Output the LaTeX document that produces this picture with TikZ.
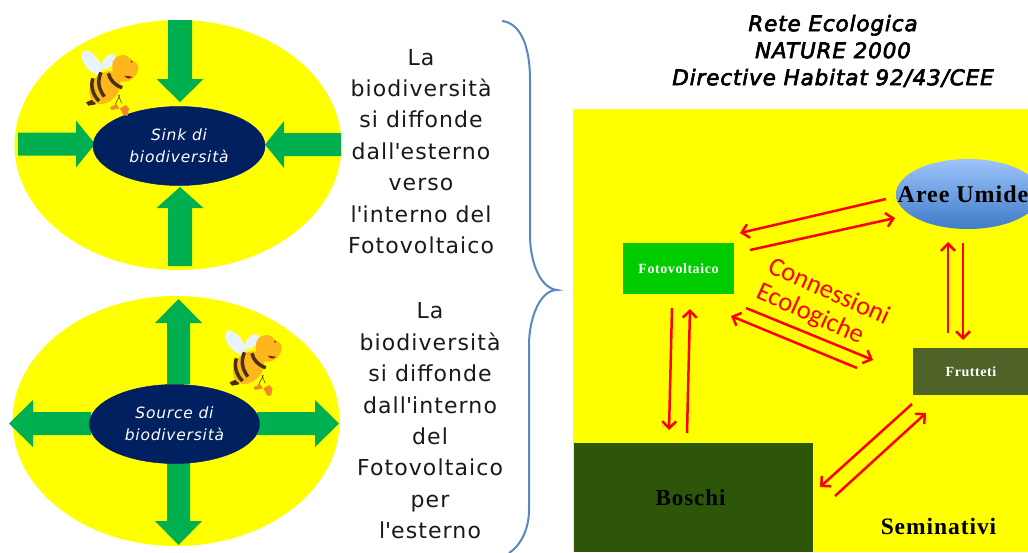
\documentclass[tikz,border=0pt]{standalone}
\usepackage{fontspec}
\usetikzlibrary{arrows.meta,shapes.geometric}
\setmainfont[LetterSpace=5]{DejaVu Sans}
\newfontfamily\serifbold[LetterSpace=4]{Liberation Serif Bold}
\newfontfamily\carli{Carlito}
\newfontfamily\titlefont[LetterSpace=4,FakeBold=3]{DejaVu Sans Oblique}
\definecolor{pureyellow}{RGB}{255,255,0}
\definecolor{purered}{RGB}{255,0,0}
\definecolor{blockgreen}{HTML}{00B050}
\definecolor{navyfill}{HTML}{002060}
\definecolor{bracecol}{HTML}{5B87BF}
\definecolor{boschicol}{HTML}{2D5609}
\definecolor{fotocol}{HTML}{00CC00}
\definecolor{fruttcol}{HTML}{4F6228}
\definecolor{beeorange}{HTML}{FDB71C}
\definecolor{beebrown}{HTML}{4A3208}
\definecolor{beewing}{HTML}{EAF3FC}
\definecolor{beefoot}{HTML}{F08A2C}
\definecolor{areetop}{HTML}{9DC3FB}
\definecolor{areebot}{HTML}{3F7CC8}
\tikzset{
  bigoval/.style={ellipse,fill=pureyellow,inner sep=0pt},
  navyoval/.style={ellipse,fill=navyfill,draw=navyfill!80!blue,line width=0.5pt,inner sep=0pt,minimum width=172pt,minimum height=79pt,text=white,align=center,font=\fontsize{15.5}{23}\selectfont\itshape},
  zone/.style={rectangle,inner sep=0pt},
  link/.style={purered,line width=2.5pt,-{Straight Barb[length=7pt,width=14pt,line width=2.5pt]}},
  bodytext/.style={align=center,text=black!90,font=\fontsize{22}{31.4}\selectfont},
  pics/beefig/.style={code={
    \begin{scope}[scale=1/3]
    \fill[beewing,rotate around={-52:(50,52)}] (50,52) circle[x radius=42,y radius=21];
    \fill[beewing,rotate around={50:(100,50)}] (100,50) circle[x radius=28,y radius=15];
    \fill[beebrown] (33,172) -- (60,160) -- (62,178) -- (40,182) -- cycle;
    \fill[beeorange,rotate around={50:(90,128)}] (90,128) circle[x radius=54,y radius=41];
    \draw[beebrown,line width=3.5pt] (78,82) .. controls (68,105) and (68,128) .. (88,155);
    \draw[beebrown,line width=3.5pt] (54,100) .. controls (46,120) and (52,148) .. (72,168);
    \draw[beebrown,line width=3.5pt] (100,85) .. controls (105,105) and (120,122) .. (142,128);
    \fill[beeorange] (112,60) .. controls (112,32) and (150,22) .. (162,38)
       .. controls (172,50) and (192,50) .. (190,70) .. controls (187,92) and (172,107) .. (150,110)
       .. controls (122,114) and (110,85) .. (112,60) -- cycle;
    \fill[beebrown] (170,50) circle[radius=3];
    \fill[beebrown!70!red] (148,92) .. controls (155,104) and (167,102) .. (172,95) -- cycle;
    \draw[beebrown,line width=0.5pt] (130,150) -- (140,175) (135,150) -- (120,180);
    \fill[beefoot] (105,186) -- (125,178) -- (133,190) -- (110,195) -- cycle;
    \fill[beefoot] (135,190) -- (152,180) -- (162,190) -- (158,212) -- (146,212) -- cycle;
    \end{scope}
  }}
}
\newcommand{\blockarrow}[5]{% tail x,y / angle / length / head length / half shaft
  \fill[blockgreen,shift={(#1)},rotate=#2]
    (0,-#5) -- (#3-#4,-#5) -- (#3-#4,-23.5) -- (#3,0) -- (#3-#4,23.5) -- (#3-#4,#5) -- (0,#5) -- cycle;}
\begin{document}
\begin{tikzpicture}[x=1pt,y=-1pt]
\useasboundingbox (0,0) rectangle (1028,552);
\clip (0,0) rectangle (1028,552);

% Upper oval
\node[bigoval,minimum width=327pt,minimum height=250pt] (sinkbg) at (178,145) {};
\blockarrow{180,20}{-90}{82}{23}{12}
\blockarrow{180,266}{90}{79}{21}{12}
\blockarrow{18,144}{0}{77}{19}{11.5}
\blockarrow{341,144.5}{180}{76}{19}{11.5}
\node[navyoval] (sink) at (179,146) {Sink di\\[-1pt]biodiversità};
\pic at (75,45) {beefig};

% Lower oval
\node[bigoval,minimum width=327pt,minimum height=250pt] (sourcebg) at (176,421) {};
\blockarrow{178.5,384}{90}{85}{24}{11.5}
\blockarrow{178.5,462}{-90}{83}{24}{11.5}
\blockarrow{91,423.5}{180}{82}{24}{11.5}
\blockarrow{257,423.5}{0}{82}{24}{11.5}
\node[navyoval,minimum width=170pt] (source) at (174.5,424) {Source di\\[-1pt]biodiversità};
\pic at (218.5,325) {beefig};

% Texts
\node[bodytext] (t1) at (421,151.5) {La\\biodiversità\\si diffonde\\dall\textquotesingle esterno\\verso\\l\textquotesingle interno del\\Fotovoltaico};
\node[bodytext] (t2) at (430,421) {La\\biodiversità\\si diffonde\\dall\textquotesingle interno\\del\\Fotovoltaico\\per\\l\textquotesingle esterno};

% Brace
\coordinate (bra) at (502,21);
\coordinate (brb) at (530,80);
\coordinate (brc) at (530,235);
\coordinate (brt) at (557,290);
\coordinate (brd) at (529,345);
\coordinate (bre) at (529,510);
\coordinate (brf) at (509,553);
\draw[bracecol,line width=2pt] (bra) .. controls (520,23) and (530,45) .. (brb) -- (brc)
  .. controls (530,262) and (540,288) .. (brt) .. controls (540,290) and (529,318) .. (brd)
  -- (bre) .. controls (529,530) and (520,546) .. (brf);

% Title
\node[align=center,text=black,font=\titlefont\fontsize{21.5}{27}\selectfont] (title) at (833,51) {Rete Ecologica\\NATURE 2000\\Directive Habitat 92/43/CEE};

% Map
\node[zone,fill=pureyellow,minimum width=455pt,minimum height=443pt] (map) at (800.5,330.5) {};
\node[zone,fill=boschicol,minimum width=239pt,minimum height=109pt,font=\serifbold\fontsize{23}{26}\selectfont,text=black] (boschi) at (693.5,497.5) {Boschi\hspace*{6pt}};
\node[zone,fill=fotocol,minimum width=111pt,minimum height=51pt,font=\serifbold\fontsize{14}{16}\selectfont,text=white] (foto) at (678.5,268.5) {Fotovoltaico};
\node[zone,fill=fruttcol,minimum width=116pt,minimum height=47pt,font=\serifbold\fontsize{14}{16}\selectfont,text=white] (frutt) at (971,371.5) {Frutteti};
\node[ellipse,inner sep=0pt,minimum width=144pt,minimum height=70pt,top color=areetop,bottom color=areebot] (aree) at (968,194) {};
\node[font=\serifbold\fontsize{24}{26}\selectfont,text=black] (areetext) at (963,194) {Aree Umide};
\node[font=\serifbold\fontsize{23.5}{26}\selectfont,text=black] (semi) at (938.5,526) {Seminativi};
\node[rotate=-24,align=center,text=purered,font=\carli\fontsize{26.5}{28}\selectfont] (conn) at (823,305) {Connessioni\\Ecologiche\hspace*{16pt}};

% Connections
\coordinate (a1) at (886,199); \coordinate (a2) at (740,233);
\coordinate (b1) at (750,250); \coordinate (b2) at (895,218);
\coordinate (c1) at (948,333); \coordinate (c2) at (948,242);
\coordinate (d1) at (963,243); \coordinate (d2) at (963,340);
\coordinate (e1) at (857,368); \coordinate (e2) at (731,316);
\coordinate (f1) at (746,308); \coordinate (f2) at (873,360);
\coordinate (g1) at (672,308); \coordinate (g2) at (669,430);
\coordinate (h1) at (687,433); \coordinate (h2) at (690,309);
\coordinate (i1) at (912,404); \coordinate (i2) at (820,487);
\coordinate (j1) at (835,496); \coordinate (j2) at (926,413);
\foreach \s/\e in {a1/a2,b1/b2,c1/c2,d1/d2,e1/e2,f1/f2,g1/g2,h1/h2,i1/i2,j1/j2}
  \draw[link] (\s) -- (\e);
\end{tikzpicture}
\end{document}
